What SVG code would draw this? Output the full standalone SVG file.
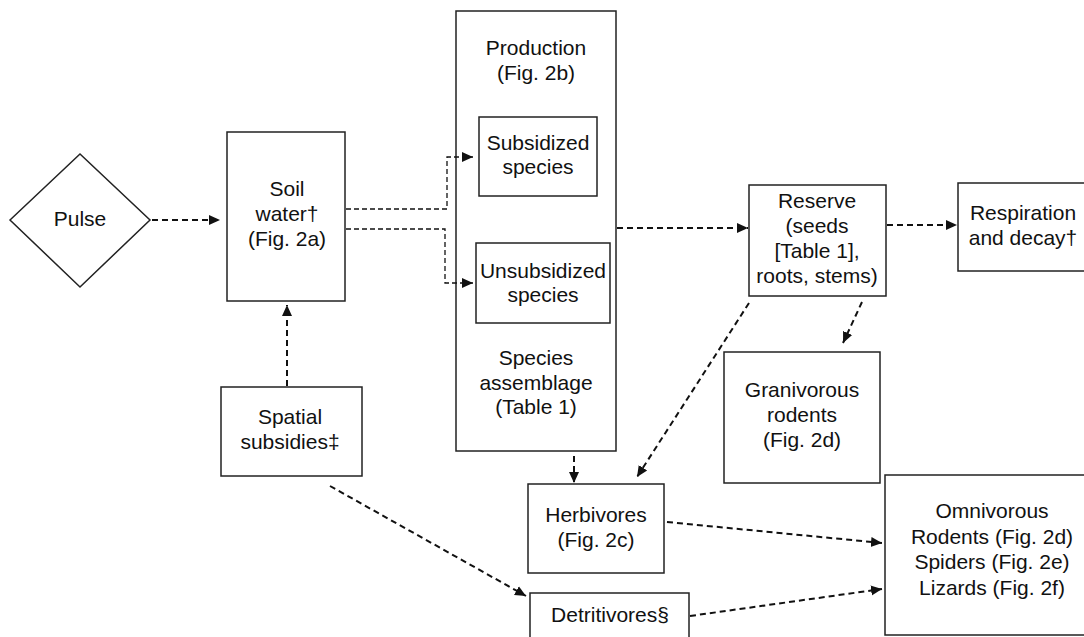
<svg xmlns="http://www.w3.org/2000/svg" width="1084" height="637" viewBox="0 0 1084 637">
<style>
.box{fill:#fff;stroke:#222;stroke-width:1.5}
text{font-family:"Liberation Sans",Arial,sans-serif;font-size:21px;fill:#111;text-anchor:middle}
.c{fill:none;stroke:#111;stroke-width:2;stroke-dasharray:6 4}
.t{fill:none;stroke:#111;stroke-width:1.3;stroke-dasharray:5 3}
</style>
<defs>
<marker id="ah" markerUnits="userSpaceOnUse" markerWidth="12" markerHeight="12" viewBox="0 0 12 12" refX="11" refY="6" orient="auto">
<path d="M0,1 L11,6 L0,11 Z" fill="#111"/>
</marker>
</defs>
<rect width="1084" height="637" fill="#fff"/>
<g id="pulse"><polygon class="box" points="10,220 80,154 150,220 80,287"/><text x="80" y="226">Pulse</text></g>
<g id="soil"><rect class="box" x="227" y="132" width="118" height="169"/><text x="287" y="196">Soil</text><text x="287" y="221">water†</text><text x="287" y="246">(Fig. 2a)</text></g>
<g id="spatial"><rect class="box" x="221" y="387" width="141" height="89"/><text x="290" y="424">Spatial</text><text x="290" y="449">subsidies‡</text></g>
<g id="production"><rect class="box" x="456" y="11" width="160" height="440"/><text x="536" y="55">Production</text><text x="536" y="80">(Fig. 2b)</text><text x="536" y="365">Species</text><text x="536" y="390">assemblage</text><text x="536" y="414">(Table 1)</text></g>
<g id="subsidized"><rect class="box" x="479" y="117" width="118" height="79"/><text x="538" y="150">Subsidized</text><text x="538" y="174">species</text></g>
<g id="unsubsidized"><rect class="box" x="476" y="243" width="134" height="80"/><text x="543" y="278">Unsubsidized</text><text x="543" y="302">species</text></g>
<g id="reserve"><rect class="box" x="749" y="185" width="137" height="111"/><text x="817" y="208">Reserve</text><text x="817" y="233">(seeds</text><text x="817" y="258">[Table 1],</text><text x="817" y="283">roots, stems)</text></g>
<g id="respiration"><rect class="box" x="958" y="183" width="140" height="88"/><text x="1023" y="220">Respiration</text><text x="1023" y="245">and decay†</text></g>
<g id="granivorous"><rect class="box" x="724" y="352" width="156" height="131"/><text x="802" y="397">Granivorous</text><text x="802" y="422">rodents</text><text x="802" y="447">(Fig. 2d)</text></g>
<g id="herbivores"><rect class="box" x="528" y="484" width="136" height="89"/><text x="596" y="522">Herbivores</text><text x="596" y="547">(Fig. 2c)</text></g>
<g id="detritivores"><rect class="box" x="530" y="593" width="159" height="60"/><text x="610" y="622">Detritivores§</text></g>
<g id="omnivorous"><rect class="box" x="885" y="475" width="210" height="160"/><text x="992" y="518">Omnivorous</text><text x="992" y="544">Rodents (Fig. 2d)</text><text x="992" y="569">Spiders (Fig. 2e)</text><text x="992" y="595">Lizards (Fig. 2f)</text></g>
<g id="connectors">
<path class="c" d="M152,220 L220,220" marker-end="url(#ah)"/>
<path class="c" d="M287,386 L287,305" marker-end="url(#ah)"/>
<path class="t" d="M346,209 L447,209 L447,157 L473,157" marker-end="url(#ah)"/>
<path class="t" d="M346,229 L445,229 L445,283 L473,283" marker-end="url(#ah)"/>
<path class="c" d="M617,228 L748,228" marker-end="url(#ah)"/>
<path class="c" d="M887,225 L957,225" marker-end="url(#ah)"/>
<path class="c" d="M749,303 L637,477" marker-end="url(#ah)"/>
<path class="c" d="M862,302 L843,343" marker-end="url(#ah)"/>
<path class="c" d="M574,456 L574,483" marker-end="url(#ah)"/>
<path class="c" d="M330,486 L526,596" marker-end="url(#ah)"/>
<path class="c" d="M667,522 L882,543" marker-end="url(#ah)"/>
<path class="c" d="M690,616 L882,589" marker-end="url(#ah)"/>
</g>
</svg>
